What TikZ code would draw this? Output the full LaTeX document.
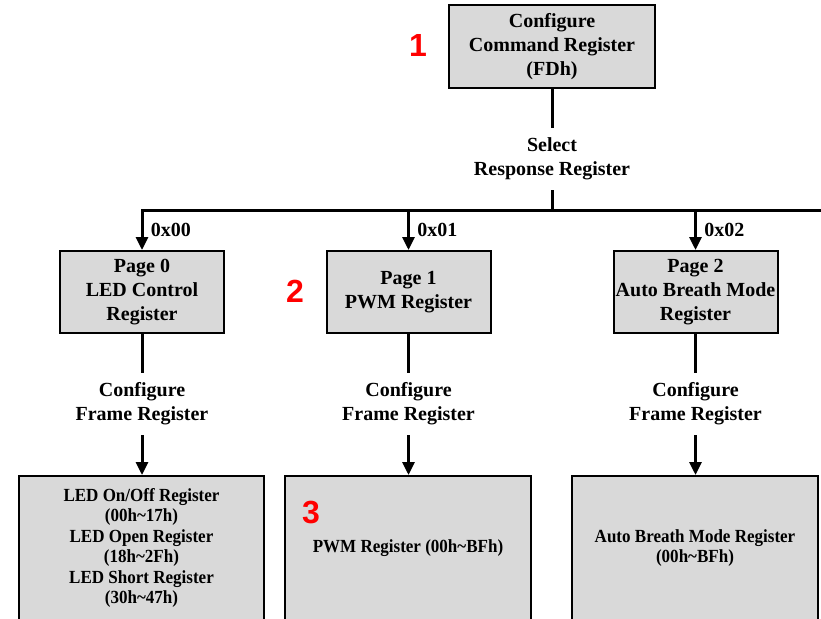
\documentclass[tikz,border=0pt]{standalone}
\usepackage{fontspec}
\setmainfont{Liberation Serif}
\newfontfamily\numfont{Liberation Sans}
\newfontfamily\condfont{Liberation Serif}[FakeStretch=0.92]
\usetikzlibrary{arrows.meta}

\definecolor{boxgray}{RGB}{217,217,217}
\tikzset{
  regbox/.style={draw, line width=2pt, fill=boxgray, align=center, inner sep=0pt,
                 minimum width=164pt, minimum height=82pt,
                 font=\bfseries\fontsize{20}{24}\selectfont},
  datbox/.style={draw, line width=2pt, fill=boxgray, align=center, inner sep=0pt,
                 minimum width=246pt, minimum height=144pt,
                 font=\condfont\bfseries\fontsize{18.5}{20.5}\selectfont},
  lbl/.style={align=center, inner sep=0pt, minimum height=62pt,
              font=\bfseries\fontsize{20}{24}\selectfont},
  hexlbl/.style={right=4pt, font=\bfseries\fontsize{20}{24}\selectfont},
  conn/.style={line width=3pt},
  arr/.style={conn, -{Triangle[width=12pt,length=13pt]}},
  num/.style={text=red, font=\numfont\bfseries\fontsize{32}{36}\selectfont}
}

\begin{document}
\begin{tikzpicture}[x=1pt,y=-1pt]
\useasboundingbox (0,0) rectangle (821,618);
\clip (0,0) rectangle (821,618);

% command register
\node[regbox, minimum width=206pt, minimum height=83pt] (cmd) at (552,46.5)
  {Configure\\Command Register\\(FDh)};
\node[lbl] (sel) at (552,159) {Select\\Response Register};
\coordinate (bus) at (552,210);
\coordinate (busR) at (821,210);

% pages
\node[regbox] (page0) at (142,292) {Page 0\\LED Control\\Register};
\node[regbox] (page1) at (408.5,292) {Page 1\\PWM Register};
\node[regbox] (page2) at (695.5,292) {Page 2\\Auto Breath Mode\\Register};

\foreach \p in {0,1,2}
  \node[lbl] (frame\p) at (page\p |- 0,404) {Configure\\Frame Register};

% frame registers
\node[datbox, minimum width=245pt] (data0) at (141.5,548)
  {LED On/Off Register\\(00h\textasciitilde 17h)\\LED Open Register\\(18h\textasciitilde 2Fh)\\LED Short Register\\(30h\textasciitilde 47h)};
\node[datbox] (data1) at (408,548) {PWM Register (00h\textasciitilde BFh)};
\node[datbox] (data2) at (695,548) {Auto Breath Mode Register\\(00h\textasciitilde BFh)};

% connectors
\draw[conn] (cmd.south) -- (sel.north);
\draw[conn] (sel.south) -- (bus);
\draw[arr] (busR) -- (page0.north |- bus) -- (page0.north)
  node[hexlbl, midway] {0x00};
\draw[arr] (page1.north |- bus) -- (page1.north) node[hexlbl, midway] {0x01};
\draw[arr] (page2.north |- bus) -- (page2.north) node[hexlbl, midway] {0x02};
\foreach \p in {0,1,2} {
  \draw[conn] (page\p.south) -- (frame\p.north);
  \draw[arr] (frame\p.south) -- (frame\p.south |- data\p.north);
}

% step numbers
\node[num] (n1) at (418,45) {1};
\node[num] (n2) at (295,291) {2};
\node[num] (n3) at (311,513) {3};
\end{tikzpicture}
\end{document}
